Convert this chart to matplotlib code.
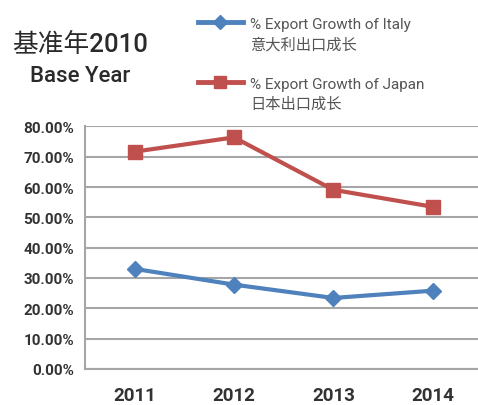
import matplotlib.pyplot as plt
from matplotlib.lines import Line2D
from matplotlib.ticker import PercentFormatter

years = ["2011", "2012", "2013", "2014"]
italy_growth = [33.0, 27.8, 23.4, 25.8]
japan_growth = [71.7, 76.4, 59.1, 53.5]
y_ticks = [0, 10, 20, 30, 40, 50, 60, 70, 80]

italy_label = ["% Export Growth of Italy", "意大利出口成长"]
japan_label = ["% Export Growth of Japan", "日本出口成长"]

blue = "#4F81BD"
red = "#C0504D"
fonts = ["Roboto", "Noto Sans CJK SC", "DejaVu Sans"]
plt.rcParams["font.family"] = fonts

W, H = 478, 406
fig = plt.figure(figsize=(W / 100, H / 100), dpi=100)
ax = fig.add_axes([0.178, 0.089, 0.831, 0.597])

x = range(len(years))
ax.plot(x, italy_growth, color=blue, lw=3, marker="D", ms=8, zorder=3)
ax.plot(x, japan_growth, color=red, lw=3, marker="s", ms=9.5, zorder=3)

ax.set_xlim(-0.5, len(years) - 0.5)
ax.set_ylim(0, 80)
ax.set_yticks(y_ticks)
ax.yaxis.set_major_formatter(PercentFormatter(decimals=2))
ax.set_xticks(list(x))
ax.set_xticklabels(years)
ax.grid(axis="y", color="#a6a6a6", lw=1.5)
ax.set_axisbelow(True)
for side in ["left", "bottom"]:
    ax.spines[side].set_color("#a6a6a6")
    ax.spines[side].set_linewidth(1.5)
ax.spines["top"].set_visible(False)
ax.spines["right"].set_visible(False)
ax.tick_params(length=0)
ax.tick_params(axis="y", labelsize=11, labelcolor="#333333", pad=8)
ax.tick_params(axis="x", labelsize=13.5, labelcolor="#333333", pad=12)
for lab in ax.get_yticklabels() + ax.get_xticklabels():
    lab.set_fontweight("bold")

# title block
fig.text(80 / W, 1 - 45 / H, "基准年2010", ha="center", va="center",
         fontsize=18.5, color="#2a2a2a", fontweight="medium")
fig.text(80 / W, 1 - 76 / H, "Base Year", ha="center", va="center",
         fontsize=16, color="#2a2a2a", fontweight="medium")

# legend drawn by hand to match layout
for ly, col, mk, ms, labs in [(23, blue, "D", 7, italy_label),
                              (83, red, "s", 8.5, japan_label)]:
    y0 = 1 - ly / H
    fig.add_artist(Line2D([198 / W, 243 / W], [y0, y0], color=col, lw=3.5,
                          transform=fig.transFigure))
    fig.add_artist(Line2D([220 / W], [y0], color=col, marker=mk, ms=ms,
                          transform=fig.transFigure))
    fig.text(250 / W, 1 - (ly + 2) / H, labs[0], ha="left", va="center",
             fontsize=11, color="#555555")
    fig.text(250 / W, 1 - (ly + 22) / H, labs[1], ha="left", va="center",
             fontsize=11, color="#555555")

fig.savefig("out.png", dpi=100)
